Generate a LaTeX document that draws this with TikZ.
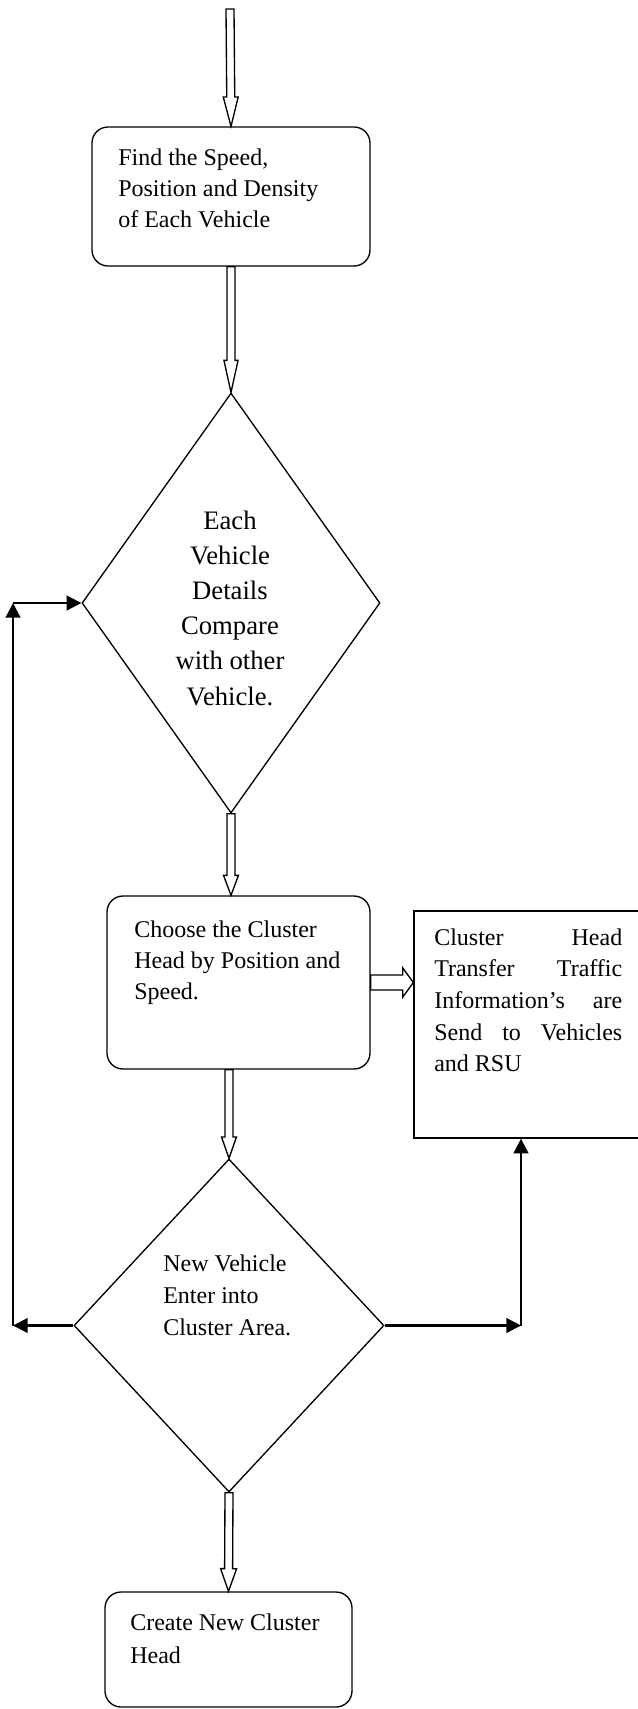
\documentclass[tikz,border=0pt]{standalone}
\usepackage{fontspec}
\setmainfont{Liberation Serif}
\usetikzlibrary{shapes.geometric}
\usetikzlibrary{calc}
\usetikzlibrary{arrows.meta}
\usetikzlibrary{positioning}

% outlined block arrow: start, end, half shaft, half head, head length
\newcommand{\hollowarrow}[5]{%
  \coordinate (hp) at ($(#2)!#5!(#1)$);
  \draw[hollow] ($(#1)!#3!90:(#2)$) -- ($(hp)!#3!90:(#2)$) -- ($(hp)!#4!90:(#2)$)
    -- (#2) -- ($(hp)!#4!-90:(#2)$) -- ($(hp)!#3!-90:(#2)$) -- ($(#1)!#3!-90:(#2)$) -- cycle;
}

\tikzset{
  box/.style={draw, rounded corners=12pt, line width=1pt, inner sep=0pt},
  plainbox/.style={draw, line width=1pt, inner sep=0pt},
  decision/.style={draw, diamond, line width=1pt, inner sep=0pt},
  txt/.style={inner sep=0pt, font=\fontsize{18}{23.6}\selectfont},
  hollow/.style={line width=1pt, line join=miter, fill=white},
  loop/.style={line width=1.6pt, -{Triangle[length=11pt,width=11pt]}},
}

\begin{document}
\begin{tikzpicture}[x=0.75pt,y=-0.75pt]
  \useasboundingbox (0,0) rectangle (638,1709);

  % blocks
  \node[box, minimum width=208.5pt, minimum height=104.25pt] (find) at (231,196.5) {};
  \node[decision, minimum width=223.5pt, minimum height=315pt] (compare) at (231,603) {};
  \node[box, minimum width=197.25pt, minimum height=129.75pt] (choose) at (238.5,982.5) {};
  \node[plainbox, minimum width=171pt, minimum height=170.25pt] (send) at (528,1024.5) {};
  \node[decision, minimum width=232.5pt, minimum height=249.75pt] (enter) at (229,1325.5) {};
  \node[box, minimum width=185.25pt, minimum height=86.25pt] (create) at (228.5,1649.5) {};

  % texts
  \node[txt, anchor=base west] (findtxt) at (118,165)
    {\parbox[t]{165pt}{\raggedright Find the Speed,\\Position and Density\\of Each Vehicle}};
  \node[txt, anchor=base, font=\fontsize{20}{26.4}\selectfont] (comparetxt) at (230,529)
    {\parbox[t]{120pt}{\centering Each\\Vehicle\\Details\\Compare\\with other\\Vehicle.}};
  \node[txt, anchor=base west] (choosetxt) at (134,937)
    {\parbox[t]{180pt}{\raggedright Choose the Cluster\\Head by Position and\\Speed.}};
  \node[txt, anchor=base west, font=\fontsize{18}{23.8}\selectfont] (sendtxt) at (434,945)
    {\parbox[t]{141pt}{\hyphenpenalty=10000 Cluster Head\linebreak Transfer Traffic\linebreak
     Information’s are\linebreak Send to Vehicles\linebreak and RSU}};
  \node[txt, anchor=base west, font=\fontsize{18}{24}\selectfont] (entertxt) at (163,1271)
    {\parbox[t]{150pt}{\raggedright New Vehicle\\Enter into\\Cluster Area.}};
  \node[txt, anchor=base west, font=\fontsize{18}{25}\selectfont] (createtxt) at (130,1630)
    {\parbox[t]{170pt}{\raggedright Create New Cluster\\Head}};

  % main flow
  \coordinate (start) at (230,9);
  \coordinate (choosein) at (compare.south |- choose.north);
  \coordinate (chooseout) at (enter.north |- choose.south);
  \coordinate (sendin) at (send.west |- choose.east);
  \hollowarrow{start}{find.north}{3pt}{5.6pt}{22pt}
  \hollowarrow{find.south}{compare.north}{3pt}{5.3pt}{24pt}
  \hollowarrow{compare.south}{choosein}{3pt}{5.6pt}{15pt}
  \hollowarrow{chooseout}{enter.north}{3pt}{5.6pt}{16pt}
  \hollowarrow{choose.east}{sendin}{5.6pt}{11pt}{8pt}
  \hollowarrow{enter.south}{create.north}{3pt}{6pt}{17pt}

  % loop back and side branch
  \coordinate (lx) at (13,0);
  \coordinate (rx) at (521,0);
  \coordinate (lb) at (enter.west -| lx);
  \coordinate (lt) at (compare.west -| lx);
  \coordinate (rb) at (enter.east -| rx);
  \coordinate (rt) at (send.south -| rx);
  \draw[loop] (enter.west) -- (lb);
  \draw[loop] (lb) -- (lt);
  \draw[loop] (lt) -- (compare.west);
  \draw[loop] (enter.east) -- (rb);
  \draw[loop] (rb) -- (rt);
\end{tikzpicture}
\end{document}
